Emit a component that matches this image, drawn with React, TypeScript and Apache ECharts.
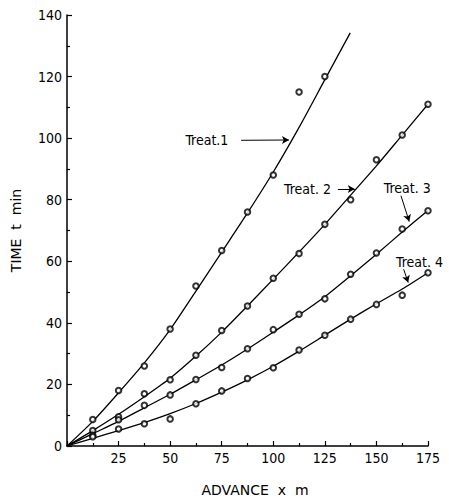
import React, { useEffect, useRef } from "react";
import * as echarts from "echarts";

const yTicks = [0, 20, 40, 60, 80, 100, 120, 140];

// measured points [advance x (m), time t (min)]
const treat1Points = [[12.5, 8.6], [25, 18], [37.5, 26], [50, 38], [62.5, 52], [75, 63.5], [87.5, 76], [100, 88], [112.5, 115], [125, 120]];
const treat2Points = [[12.5, 5], [25, 9.5], [37.5, 17], [50, 21.5], [62.5, 29.5], [75, 37.5], [87.5, 45.5], [100, 54.5], [112.5, 62.5], [125, 72], [137.5, 80], [150, 93], [162.5, 101], [175, 111]];
const treat3Points = [[12.5, 3.5], [25, 8.5], [37.5, 13.2], [50, 16.6], [62.5, 21.6], [75, 25.5], [87.5, 31.6], [100, 37.8], [112.5, 42.8], [125, 47.8], [137.5, 55.8], [150, 62.7], [162.5, 70.5], [175, 76.4]];
const treat4Points = [[12.5, 3], [25, 5.5], [37.5, 7.2], [50, 8.8], [62.5, 13.7], [75, 17.9], [87.5, 21.9], [100, 25.4], [112.5, 31.2], [125, 36], [137.5, 41.2], [150, 46], [162.5, 49], [175, 56.3]];

// fitted curves
const treat1Curve = [[0, 0], [12.5, 8], [25, 17.3], [37.5, 27], [50, 37.8], [62.5, 50.3], [75, 63], [87.5, 75.7], [100, 89], [112.5, 103.5], [125, 119], [137.3, 134.2]];
const treat2Curve = [[0, 0], [12.5, 5], [25, 10.3], [37.5, 16], [50, 22], [62.5, 29.2], [75, 37], [87.5, 45.5], [100, 54.2], [112.5, 63], [125, 72], [137.5, 81.5], [150, 91], [162.5, 101], [175, 111]];
const treat3Curve = [[0, 0], [12.5, 4], [25, 8], [37.5, 12.4], [50, 16.8], [62.5, 21.5], [75, 26.3], [87.5, 31.5], [100, 37], [112.5, 42.6], [125, 48.5], [137.5, 55.3], [150, 62.3], [162.5, 69.5], [175, 76.5]];
const treat4Curve = [[0, 0], [12.5, 2.5], [25, 5], [37.5, 7.6], [50, 10.5], [62.5, 13.8], [75, 17.5], [87.5, 21.5], [100, 25.9], [112.5, 30.8], [125, 36], [137.5, 41.2], [150, 46.2], [162.5, 51], [175, 56.3]];

// annotation labels and arrows, in data coordinates
const labelTexts = ["Treat.1", "Treat. 2", "Treat. 3", "Treat. 4"];
const labelAnchors = [[57.4, 99.3], [105.2, 83.5], [153.6, 83.8], [159.5, 59.9]];
const arrowStarts = [[84.4, 99.3], [131.3, 83.5], [161.9, 81.3], [163.2, 57.4]];
const arrowEnds = [[107.6, 99.4], [139.5, 83.5], [165.9, 72.9], [165.4, 53.1]];

const FONT = "DejaVu Sans Condensed, DejaVu Sans, sans-serif";

export default function App() {
  const ref = useRef<HTMLDivElement>(null);
  useEffect(() => {
    if (!ref.current) return;
    const chart = echarts.init(ref.current, undefined, { renderer: "svg" });
    const curves = [treat1Curve, treat2Curve, treat3Curve, treat4Curve];
    const points = [treat1Points, treat2Points, treat3Points, treat4Points];
    const series: any[] = [];
    curves.forEach((c) => {
      series.push({
        type: "line",
        data: c,
        smooth: 0.25,
        showSymbol: false,
        symbol: "none",
        lineStyle: { color: "#000", width: 1.3 },
        z: 2,
      });
    });
    points.forEach((p) => {
      series.push({
        type: "scatter",
        data: p,
        symbol: "emptyCircle",
        symbolSize: 5.5,
        itemStyle: { color: "#000", borderColor: "#000", borderWidth: 1.1 },
        z: 3,
      });
    });
    series.push({
      type: "scatter",
      data: [],
      markLine: {
        silent: true,
        symbol: ["none", "arrow"],
        symbolSize: [6, 7],
        label: { show: false },
        lineStyle: { color: "#000", width: 1, type: "solid" },
        data: arrowStarts.map((s, i) => [{ coord: s }, { coord: arrowEnds[i] }]),
      },
      markPoint: {
        silent: true,
        symbol: "circle",
        symbolSize: 0,
        data: labelAnchors.map((a, i) => ({
          coord: a,
          label: {
            show: true,
            formatter: labelTexts[i],
            position: "right",
            distance: 0,
            color: "#000",
            fontSize: 14,
            fontFamily: FONT,
          },
        })),
      },
    });

    chart.setOption({
      animation: false,
      backgroundColor: "#fff",
      grid: { left: 67, right: 21, top: 15, bottom: 47 },
      xAxis: {
        type: "value",
        min: 0,
        max: 175,
        interval: 25,
        name: "ADVANCE  x  m",
        nameLocation: "middle",
        nameGap: 37,
        nameTextStyle: { color: "#000", fontSize: 14, fontFamily: "DejaVu Sans, sans-serif", padding: [0, 0, 0, 15] },
        axisLine: { show: true, onZero: false, lineStyle: { color: "#000", width: 1.5 } },
        axisTick: { show: true, inside: true, length: 5, lineStyle: { color: "#000", width: 1.2 } },
        minorTick: { show: true, splitNumber: 2, length: 3, lineStyle: { color: "#000", width: 1.2 } },
        splitLine: { show: false },
        axisLabel: {
          color: "#000",
          fontSize: 14,
          fontFamily: FONT,
          margin: 5,
          formatter: (v: number) => (v === 0 ? "" : String(v)),
        },
      },
      yAxis: {
        type: "value",
        min: 0,
        max: 140,
        interval: 20,
        name: "TIME  t  min",
        nameLocation: "middle",
        nameGap: 44,
        nameTextStyle: { color: "#000", fontSize: 14, fontFamily: "DejaVu Sans, sans-serif" },
        axisLine: { show: true, lineStyle: { color: "#000", width: 1.5 } },
        axisTick: { show: true, inside: true, length: 5, lineStyle: { color: "#000", width: 1.2 } },
        minorTick: { show: true, splitNumber: 2, length: 3, lineStyle: { color: "#000", width: 1.2 } },
        splitLine: { show: false },
        axisLabel: { color: "#000", fontSize: 14, fontFamily: FONT, margin: 5, customValues: yTicks },
      },
      series,
    });
    return () => chart.dispose();
  }, []);
  return <div ref={ref} style={{ width: 449, height: 502, position: "absolute", left: 0, top: 0 }} />;
}
